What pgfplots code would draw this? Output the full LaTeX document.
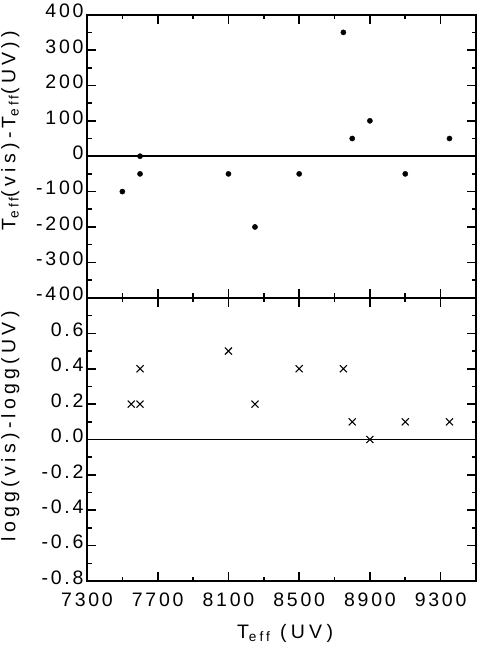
\documentclass[border=0pt]{standalone}
\usepackage{fontspec}
\setmainfont{Liberation Sans}[LetterSpace=14]
\newfontfamily\labfont{Liberation Sans}[LetterSpace=22]
\usepackage{pgfplots}
\pgfplotsset{compat=1.18}
\pgfplotstableread{
x y
7500 -100
7600 0
7600 -50
8100 -50
8250 -200
8500 -50
8750 350
8800 50
8900 100
9100 -50
9350 50
}\teff
\pgfplotstableread{
x y
7550 0.2
7600 0.2
7600 0.4
8100 0.5
8250 0.2
8500 0.4
8750 0.4
8800 0.1
8900 0.0
9100 0.1
9350 0.1
}\logg
\begin{document}
\begin{tikzpicture}
\useasboundingbox (0pt,0pt) rectangle (478pt,645pt);
\pgfplotsset{
  myax/.style={
    scale only axis, width=389pt, height=283pt,
    xmin=7300, xmax=9500,
    xtick={7300,7700,8100,8500,8900,9300},
    minor xtick={7500,7900,8300,8700,9100},
    tick align=inside, xtick pos=both, ytick pos=both,
    major tick length=9pt, minor tick length=4.5pt,
    every tick/.style={black, line width=1.6pt},
    every minor tick/.style={black, line width=1.6pt},
    axis line style={line width=2pt},
    ticklabel style={font=\fontsize{19.5}{19.5}\selectfont},
    yticklabel style={yshift=3.5pt},
    xticklabel style={yshift=-8pt},
    /pgf/number format/assume math mode=true,
    /pgf/number format/1000 sep={},
    label style={font=\labfont\fontsize{19.5}{19.5}\selectfont},
    clip=false,
  }
}
\begin{axis}[myax, at={(87pt,347.3pt)}, anchor=south west,
  ymin=-400, ymax=400, ytick={-400,-300,...,400},
  minor ytick={-350,-250,...,350},
  xticklabels={},
  ylabel={T\textsubscript{eff}(vis)-T\textsubscript{eff}(UV))},
  ylabel style={at={(axis description cs:-0.197,0.59)}, rotate=0, anchor=center},
]
\addplot[black, line width=1.8pt, forget plot] coordinates {(7300,0) (9500,0)};
\addplot[only marks, mark=*, mark size=2.6pt, black] table[x=x,y=y] {\teff};
\end{axis}
\begin{axis}[myax, at={(87pt,64pt)}, anchor=south west,
  ymin=-0.8, ymax=0.8, ytick={-0.8,-0.6,...,0.61},
  minor ytick={-0.7,-0.5,...,0.71},
  yticklabel style={/pgf/number format/.cd, fixed, fixed zerofill, precision=1},
  ylabel={logg(vis)-logg(UV)},
  ylabel style={at={(axis description cs:-0.197,0.547)}, rotate=0, anchor=center},
  xlabel={T\textsubscript{eff} (UV)},
  xlabel style={at={(axis description cs:0.509,-0.184)}, anchor=center},
]
\addplot[black, line width=1.8pt, forget plot] coordinates {(7300,0) (9500,0)};
\addplot[only marks, mark=x, mark size=5pt, black, mark options={line width=1.1pt}] table[x=x,y=y] {\logg};
\end{axis}
\end{tikzpicture}
\end{document}
